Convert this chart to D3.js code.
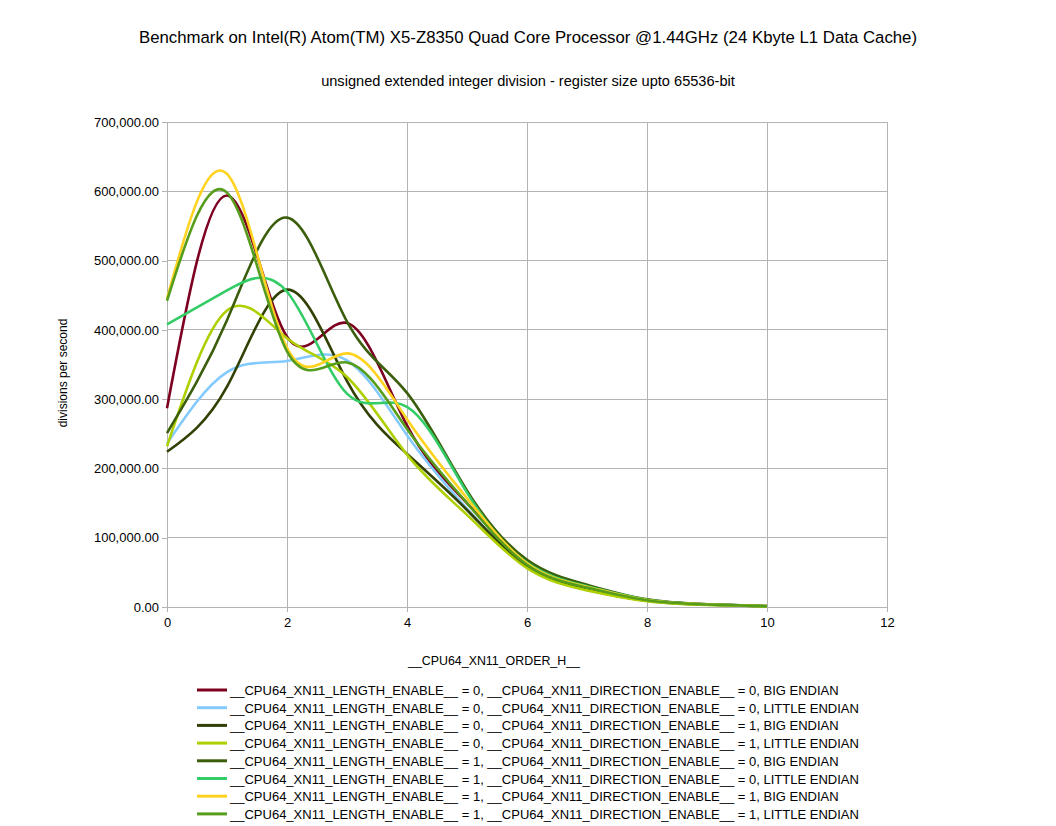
<!DOCTYPE html>
<html>
<head>
<meta charset="utf-8">
<script src="https://cdn.jsdelivr.net/npm/d3@7"></script>
<style>
  body { margin: 0; background: #fff; }
  svg text { font-family: "Liberation Sans", Arial, sans-serif; fill: #000; }
</style>
</head>
<body>
<div id="chart"></div>
<script>
// x values (order) shared by all series
const orders = [0, 1, 2, 3, 4, 5, 6, 7, 8, 9, 10];

// divisions per second
const len0_dir0_big    = [287000, 594000, 390000, 410000, 262000, 150000, 62000, 28000, 10000, 3800, 1200];
const len0_dir0_little = [236000, 339000, 355000, 356000, 248000, 142000, 60000, 27000, 9500, 3500, 1100];
const len0_dir1_big    = [224000, 318000, 458000, 326000, 221000, 140000, 58000, 25000, 9000, 3200, 1000];
const len0_dir1_little = [232000, 428000, 388000, 332000, 220000, 133000, 56000, 24000, 8500, 3000, 900];
const len1_dir0_big    = [251000, 414000, 562000, 412000, 309000, 168000, 68000, 32000, 11000, 4000, 1300];
const len1_dir0_little = [408000, 457000, 455000, 308000, 289000, 165000, 64000, 30000, 10500, 3800, 1200];
const len1_dir1_big    = [445000, 625000, 374000, 366000, 271000, 157000, 63000, 29000, 10000, 3700, 1200];
const len1_dir1_little = [442000, 598000, 369000, 353000, 257000, 150000, 61000, 28000, 9800, 3600, 1100];

const seriesNames = [
  "__CPU64_XN11_LENGTH_ENABLE__ = 0, __CPU64_XN11_DIRECTION_ENABLE__ = 0, BIG ENDIAN",
  "__CPU64_XN11_LENGTH_ENABLE__ = 0, __CPU64_XN11_DIRECTION_ENABLE__ = 0, LITTLE ENDIAN",
  "__CPU64_XN11_LENGTH_ENABLE__ = 0, __CPU64_XN11_DIRECTION_ENABLE__ = 1, BIG ENDIAN",
  "__CPU64_XN11_LENGTH_ENABLE__ = 0, __CPU64_XN11_DIRECTION_ENABLE__ = 1, LITTLE ENDIAN",
  "__CPU64_XN11_LENGTH_ENABLE__ = 1, __CPU64_XN11_DIRECTION_ENABLE__ = 0, BIG ENDIAN",
  "__CPU64_XN11_LENGTH_ENABLE__ = 1, __CPU64_XN11_DIRECTION_ENABLE__ = 0, LITTLE ENDIAN",
  "__CPU64_XN11_LENGTH_ENABLE__ = 1, __CPU64_XN11_DIRECTION_ENABLE__ = 1, BIG ENDIAN",
  "__CPU64_XN11_LENGTH_ENABLE__ = 1, __CPU64_XN11_DIRECTION_ENABLE__ = 1, LITTLE ENDIAN"
];
const seriesValues = [len0_dir0_big, len0_dir0_little, len0_dir1_big, len0_dir1_little,
                      len1_dir0_big, len1_dir0_little, len1_dir1_big, len1_dir1_little];
const seriesColors = ["#7e0021", "#83caff", "#314004", "#aecf00",
                      "#3b5e0c", "#33cc66", "#ffd320", "#579d1c"];

const xTicks = [0, 2, 4, 6, 8, 10, 12];
const yTicks = [0, 100000, 200000, 300000, 400000, 500000, 600000, 700000];

// Layout
const W = 1056, H = 826;
const plot = { left: 167, right: 887, top: 122, bottom: 607 };

const svg = d3.select("#chart")
    .append("svg")
    .attr("width", W)
    .attr("height", H);

const xScale = d3.scaleLinear().domain([0, 12]).range([plot.left, plot.right]);
const yScale = d3.scaleLinear().domain([0, 700000]).range([plot.bottom, plot.top]);

const fmt = d3.format(",.2f");

// Grid lines
svg.append("g")
    .selectAll("line.hgrid")
    .data(yTicks)
    .enter()
    .append("line")
    .attr("x1", plot.left)
    .attr("x2", plot.right)
    .attr("y1", d => yScale(d))
    .attr("y2", d => yScale(d))
    .attr("stroke", "#b3b3b3")
    .attr("stroke-width", 1)
    .attr("shape-rendering", "crispEdges");

svg.append("g")
    .selectAll("line.vgrid")
    .data(xTicks)
    .enter()
    .append("line")
    .attr("x1", d => xScale(d))
    .attr("x2", d => xScale(d))
    .attr("y1", plot.top)
    .attr("y2", plot.bottom)
    .attr("stroke", "#b3b3b3")
    .attr("stroke-width", 1)
    .attr("shape-rendering", "crispEdges");

// Axes
const yAxis = svg.append("g")
    .attr("transform", `translate(${plot.left},0)`)
    .call(d3.axisLeft(yScale).tickValues(yTicks).tickFormat(fmt).tickSizeInner(5).tickSizeOuter(0).tickPadding(3));
const xAxis = svg.append("g")
    .attr("transform", `translate(0,${plot.bottom})`)
    .call(d3.axisBottom(xScale).tickValues(xTicks).tickFormat(d3.format("d")).tickSizeInner(5).tickSizeOuter(0).tickPadding(6));

[yAxis, xAxis].forEach(ax => {
    ax.selectAll("path, line").attr("stroke", "#b3b3b3").attr("shape-rendering", "crispEdges");
    ax.selectAll("text")
        .style("font-family", "'Liberation Sans', Arial, sans-serif")
        .style("font-size", "13px")
        .attr("fill", "#000");
});

// Series lines (cubic spline)
const line = d3.line()
    .x((d, i) => xScale(orders[i]))
    .y(d => yScale(d))
    .curve(d3.curveNatural);

svg.append("g")
    .selectAll("path.series")
    .data(seriesValues)
    .enter()
    .append("path")
    .attr("class", "series")
    .attr("d", d => line(d))
    .attr("fill", "none")
    .attr("stroke", (d, i) => seriesColors[i])
    .attr("stroke-width", 2.6)
    .attr("stroke-linejoin", "round");

// Titles
svg.append("text")
    .attr("x", W / 2)
    .attr("y", 43)
    .attr("text-anchor", "middle")
    .style("font-size", "16.8px")
    .text("Benchmark on Intel(R) Atom(TM) X5-Z8350 Quad Core Processor @1.44GHz (24 Kbyte L1 Data Cache)");

svg.append("text")
    .attr("x", W / 2)
    .attr("y", 86)
    .attr("text-anchor", "middle")
    .style("font-size", "14.6px")
    .text("unsigned extended integer division - register size upto 65536-bit");

// Axis labels
svg.append("text")
    .attr("transform", "rotate(-90)")
    .attr("x", -373)
    .attr("y", 67)
    .attr("text-anchor", "middle")
    .style("font-size", "12px")
    .text("divisions per second");

svg.append("text")
    .attr("x", 494)
    .attr("y", 665)
    .attr("text-anchor", "middle")
    .style("font-size", "12.4px")
    .text("__CPU64_XN11_ORDER_H__");

// Legend
const legend = svg.append("g");
const rowH = 17.7;
const legendRows = legend.selectAll("g.row")
    .data(seriesNames)
    .enter()
    .append("g")
    .attr("transform", (d, i) => `translate(197,${690 + i * rowH})`);

legendRows.append("line")
    .attr("x1", 0)
    .attr("x2", 30)
    .attr("y1", 0)
    .attr("y2", 0)
    .attr("stroke", (d, i) => seriesColors[i])
    .attr("stroke-width", 3);

legendRows.append("text")
    .attr("x", 33)
    .attr("y", 5)
    .style("font-size", "13px")
    .text(d => d);
</script>
</body>
</html>
